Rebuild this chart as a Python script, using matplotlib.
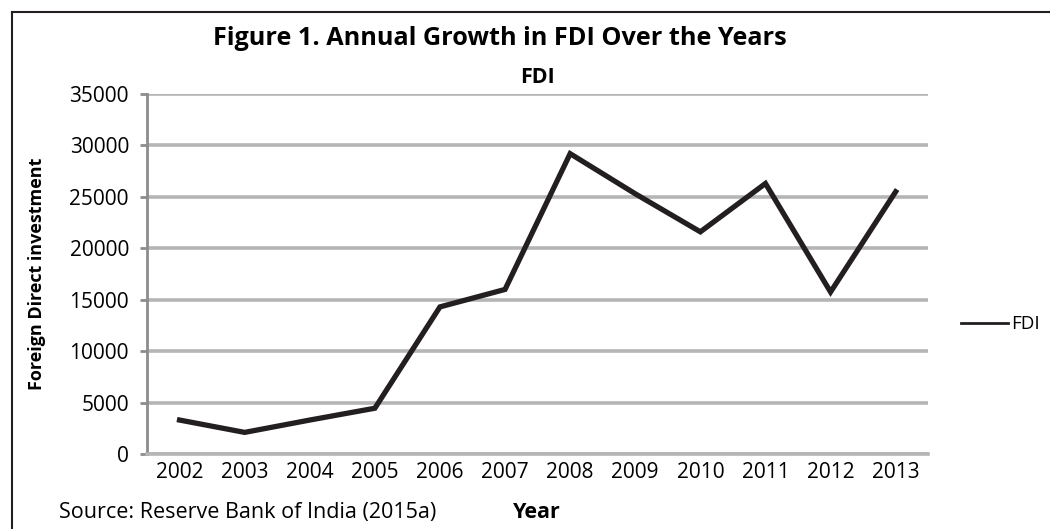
import matplotlib.pyplot as plt
from matplotlib.lines import Line2D

# data
years = ['2002', '2003', '2004', '2005', '2006', '2007',
         '2008', '2009', '2010', '2011', '2012', '2013']
fdi = [3300, 2100, 3300, 4450, 14300, 16000,
       29200, 25300, 21600, 26300, 15750, 25500]
y_ticks = [0, 5000, 10000, 15000, 20000, 25000, 30000, 35000]

plt.rcParams['font.family'] = ['Open Sans', 'DejaVu Sans']

fig = plt.figure(figsize=(10.5, 5.29), dpi=100)
ax = fig.add_axes([0.14, 0.1418, 0.744, 0.6805])

x = list(range(len(years)))
ax.plot(x, fdi, color='#231f20', linewidth=3.8, label='FDI', solid_joinstyle='miter')

ax.set_xlim(-0.5, len(years) - 0.5)
ax.set_ylim(0, 35000)
ax.set_yticks(y_ticks)
ax.set_yticklabels([str(v) for v in y_ticks])
ax.set_xticks(x)
ax.set_xticklabels(years)

# gray gridlines like the excel chart
ax.grid(axis='y', color='#b5b5b5', linewidth=2.6)
ax.set_axisbelow(True)
for side in ['top', 'right']:
    ax.spines[side].set_visible(False)
ax.spines['left'].set_color('#8c8c8c')
ax.spines['left'].set_linewidth(2)
ax.spines['bottom'].set_color('#b5b5b5')
ax.spines['bottom'].set_linewidth(2.6)
ax.tick_params(axis='y', length=5, width=2, color='#8c8c8c', labelsize=15, pad=8)
ax.tick_params(axis='x', length=0, labelsize=15, pad=6)

ax.set_title('FDI', fontsize=15.5, fontweight='bold', pad=8)
ax.set_ylabel('Foreign Direct investment', fontsize=13, fontweight='bold')
ax.yaxis.set_label_coords(-0.129, 0.5)

fig.text(0.476, 0.928, 'Figure 1. Annual Growth in FDI Over the Years',
         ha='center', va='center', fontsize=18.2, fontweight='bold')
fig.text(0.511, 0.032, 'Year', ha='center', va='center', fontsize=15.5, fontweight='bold')
fig.text(0.056, 0.032, 'Source: Reserve Bank of India (2015a)', ha='left', va='center',
         fontsize=15.5)

leg = ax.legend(loc='center left', bbox_to_anchor=(1.02, 0.36), frameon=False,
                fontsize=13.5, handlelength=2.5, handletextpad=0.2)
leg.get_lines()[0].set_linewidth(2)

# frame around the figure (top and left edge visible)
fig.add_artist(Line2D([0.011, 1.0], [0.978, 0.978], color='#231f20', linewidth=1.5))
fig.add_artist(Line2D([0.011, 0.011], [0.0, 0.978], color='#231f20', linewidth=1.5))

fig.savefig('out.png', dpi=100)
